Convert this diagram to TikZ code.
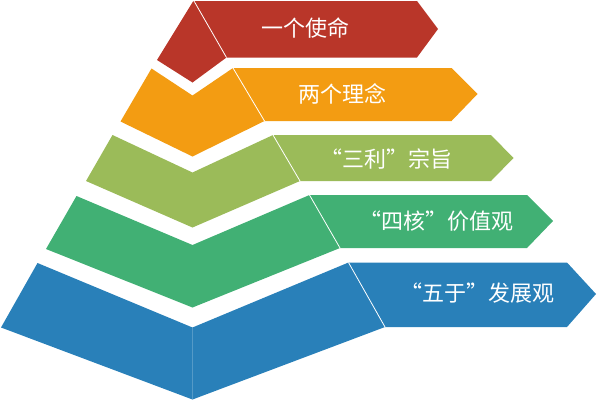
\documentclass[tikz,border=0pt]{standalone}
\usepackage{fontspec}
\newfontfamily\cjk{Noto Sans CJK SC}
\definecolor{cRed}{RGB}{185,54,41}
\definecolor{cOrange}{RGB}{243,156,18}
\definecolor{cOlive}{RGB}{155,187,89}
\definecolor{cGreen}{RGB}{65,176,116}
\definecolor{cBlue}{RGB}{41,128,185}
\begin{document}
\begin{tikzpicture}[x=1pt,y=-1pt,
  sep/.style={draw=white,line width=0.8pt},
  lbl/.style={text=white,font=\cjk\fontsize{22}{26}\selectfont,inner sep=0pt}]
\useasboundingbox (0,0) rectangle (597,400);
% red layer
\fill[cRed] (193,1.5) -- (157,60) -- (192.5,82.5) -- (226.5,57.5) -- (417,57.5) -- (438,29) -- (417,1) -- (194,1) -- cycle;
\draw[sep] (194,1) -- (226.5,57.5);
% orange layer
\fill[cOrange] (151.5,68.5) -- (120.5,121.5) -- (192.5,156.5) -- (264.5,121) -- (451.5,121) -- (477.5,94) -- (451.5,68) -- (233,68) -- (192.5,95.5) -- cycle;
\draw[sep] (233,68) -- (264.5,121);
% olive layer
\fill[cOlive] (112.5,135) -- (86,181) -- (192.5,227.5) -- (300,181) -- (491,181) -- (513.5,158) -- (491,135) -- (273,135) -- (192.5,172.5) -- cycle;
\draw[sep] (273,135) -- (300,181);
% green layer
\fill[cGreen] (76.5,196) -- (46,249) -- (192.5,307.5) -- (340,248) -- (527,248) -- (553,221) -- (527,195) -- (309.5,195) -- (192.5,245) -- cycle;
\draw[sep] (309.5,195) -- (340,248);
% blue layer
\fill[cBlue] (37.5,263) -- (1,327.5) -- (192.5,399.5) -- (385,327) -- (567,327) -- (596,294) -- (567,262.5) -- (348.5,262.5) -- (192.5,327.5) -- cycle;
\draw[sep] (348.5,262.5) -- (385,327);
\draw[cBlue!80!white,line width=0.4pt] (192.5,328) -- (192.5,399);
% labels
\node[lbl] (t1) at (305,28) {一个使命};
\node[lbl] (t2) at (342,94) {两个理念};
\node[lbl] (t3) at (386,159) {“三利”宗旨};
\node[lbl] (t4) at (436,221.5) {“四核”价值观};
\node[lbl] (t5) at (477.5,293) {“五于”发展观};
\end{tikzpicture}
\end{document}
